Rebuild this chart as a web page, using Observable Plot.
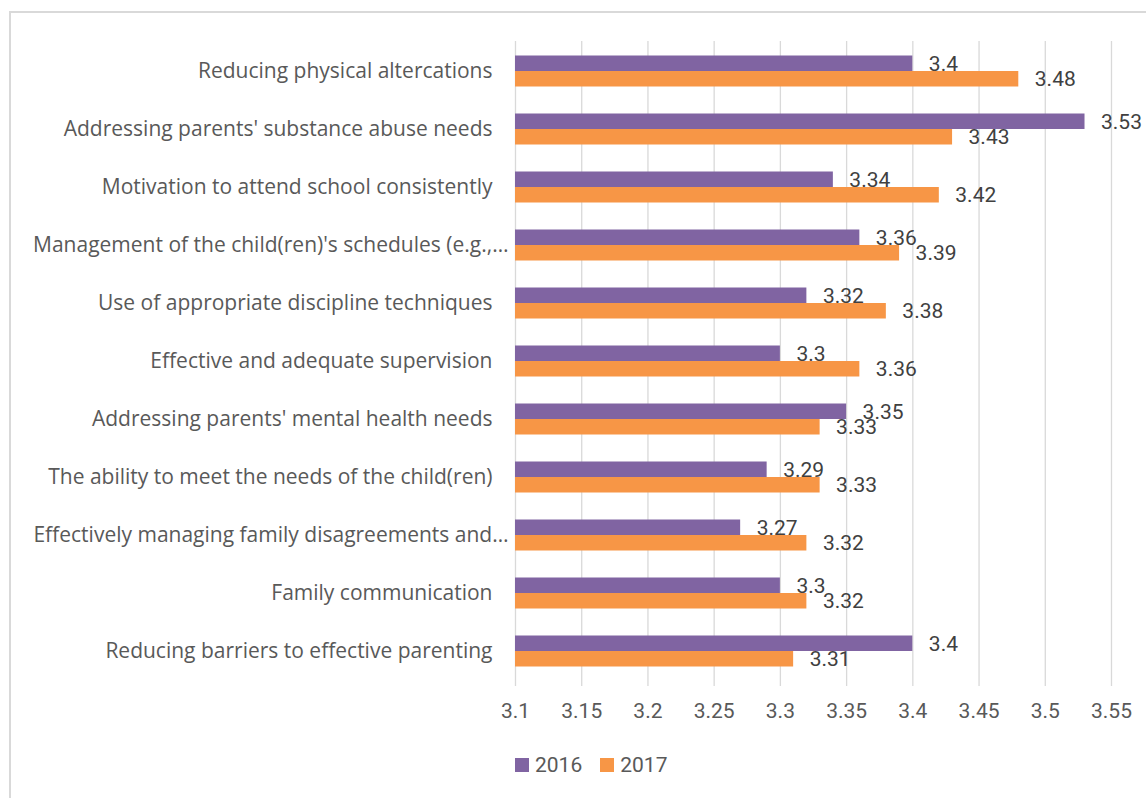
<!DOCTYPE html>
<html>
<head>
<meta charset="utf-8">
<script src="https://cdn.jsdelivr.net/npm/d3@7"></script>
<script src="https://cdn.jsdelivr.net/npm/@observablehq/plot@0.6"></script>
<style>
  html, body { margin: 0; padding: 0; background: #fff; }
  #wrap { position: relative; width: 1146px; height: 798px; overflow: hidden; }
  #frame { position: absolute; left: 9px; top: 11px; width: 1160px; height: 820px;
           border: 2px solid #d9d9d9; box-sizing: border-box; }
  #chart { position: absolute; left: 0; top: 0; }
  #legend { position: absolute; left: 515px; top: 751px; display: flex; gap: 18px;
            font-family: Roboto, sans-serif; font-size: 21px; color: #595959; line-height: 28px; }
  #legend span.item { display: flex; align-items: center; }
  #legend i { display: inline-block; width: 14px; height: 14px; margin-right: 6px; }
</style>
</head>
<body>
<div id="wrap">
  <div id="frame"></div>
  <div id="chart"></div>
  <div id="legend"></div>
</div>
<script>
// Areas rated, top to bottom
const categories = [
  "Reducing physical altercations",
  "Addressing parents' substance abuse needs",
  "Motivation to attend school consistently",
  "Management of the child(ren)'s schedules (e.g.,…",
  "Use of appropriate discipline techniques",
  "Effective and adequate supervision",
  "Addressing parents' mental health needs",
  "The ability to meet the needs of the child(ren)",
  "Effectively managing family disagreements and…",
  "Family communication",
  "Reducing barriers to effective parenting"
];
const values2016 = [3.4, 3.53, 3.34, 3.36, 3.32, 3.3, 3.35, 3.29, 3.27, 3.3, 3.4];
const values2017 = [3.48, 3.43, 3.42, 3.39, 3.38, 3.36, 3.33, 3.33, 3.32, 3.32, 3.31];
const years = ["2016", "2017"];
const xTicks = [3.1, 3.15, 3.2, 3.25, 3.3, 3.35, 3.4, 3.45, 3.5, 3.55];
const axisMin = 3.1;
const axisMax = 3.55;

const colors = {"2016": "#8064a2", "2017": "#f79646"};
const rows2016 = categories.map((c, i) => ({category: c, value: values2016[i]}));
const rows2017 = categories.map((c, i) => ({category: c, value: values2017[i]}));

// truncated labels sit closer to the bars
const truncated = categories.filter(c => c.endsWith("…"));
const full = categories.filter(c => !c.endsWith("…"));
const fmt = d => String(d);
const numFont = "Roboto, sans-serif";

const chart = Plot.plot({
  width: 1146,
  height: 730,
  marginLeft: 515,
  marginRight: 35,
  marginTop: 41,
  marginBottom: 44,
  style: {fontFamily: "'Open Sans', sans-serif", background: "transparent"},
  x: {domain: [axisMin, axisMax], axis: null},
  y: {domain: categories, padding: 0, insetBottom: 5, axis: null},
  marks: [
    Plot.ruleX(xTicks, {stroke: "#d9d9d9", strokeWidth: 1.3}),
    Plot.barX(rows2016, {x1: () => axisMin, x2: "value", y: "category", fill: colors["2016"],
      insetTop: 13.5, insetBottom: 29}),
    Plot.barX(rows2017, {x1: () => axisMin, x2: "value", y: "category", fill: colors["2017"],
      insetTop: 29, insetBottom: 13.5}),
    Plot.text(rows2016, {x: "value", y: "category", text: d => fmt(d.value), dy: -7.7, dx: 16,
      textAnchor: "start", fill: "#404040", fontSize: 21, fontFamily: numFont}),
    Plot.text(rows2017, {x: "value", y: "category", text: d => fmt(d.value), dy: 7.8, dx: 16,
      textAnchor: "start", fill: "#404040", fontSize: 21, fontFamily: numFont}),
    Plot.axisY({ticks: full, tickSize: 0, tickPadding: 23, fontSize: 21, color: "#595959", label: null}),
    Plot.axisY({ticks: truncated, tickSize: 0, tickPadding: 7, fontSize: 21, color: "#595959", label: null}),
    Plot.axisX({ticks: xTicks, tickFormat: fmt, tickSize: 0, tickPadding: 17, fontSize: 21,
      color: "#595959", fontFamily: numFont, label: null})
  ]
});
document.getElementById("chart").appendChild(chart);

const legend = document.getElementById("legend");
years.forEach(y => {
  const item = document.createElement("span");
  item.className = "item";
  item.innerHTML = `<i style="background:${colors[y]}"></i>${y}`;
  legend.appendChild(item);
});
</script>
</body>
</html>
